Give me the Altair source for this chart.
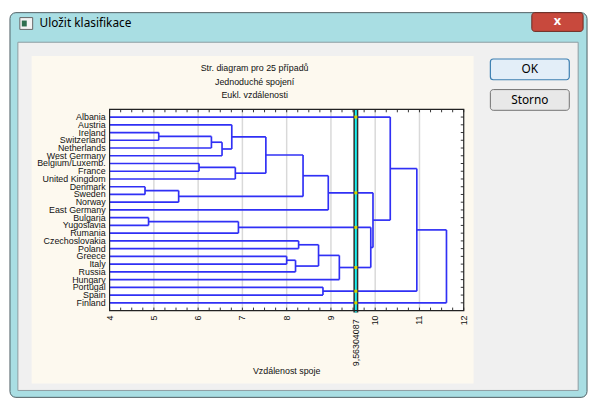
import altair as alt
import pandas as pd

# ---------------- data ----------------
LEAVES = ["Albania", "Austria", "Ireland", "Switzerland", "Netherlands", "West Germany",
          "Belgium/Luxemb.", "France", "United Kingdom", "Denmark", "Sweden", "Norway",
          "East Germany", "Bulgaria", "Yugoslavia", "Rumania", "Czechoslovakia", "Poland",
          "Greece", "Italy", "Russia", "Hungary", "Portugal", "Spain", "Finland"]

# single-linkage merges: left member, right member ("m#" = earlier merge), distance
MERGE_LEFT = ["Ireland", "m0", "m1", "Austria", "Belgium/Luxemb.", "m4", "m3", "Denmark", "m7",
              "m6", "m9", "Bulgaria", "m11", "Czechoslovakia", "Greece", "m14", "m13", "m16",
              "m12", "m10", "Albania", "Portugal", "m20", "m22"]
MERGE_RIGHT = ["Switzerland", "Netherlands", "West Germany", "m2", "France", "United Kingdom",
               "m5", "Sweden", "Norway", "m8", "East Germany", "Yugoslavia", "Rumania", "Poland",
               "Italy", "Russia", "m15", "Hungary", "m17", "m18", "m19", "Spain", "m21", "Finland"]
MERGE_DIST = [5.11, 6.30, 6.54, 6.76, 6.02, 6.84, 7.53, 4.80, 5.56, 8.37, 8.94, 4.88, 6.91,
              8.27, 8.00, 8.20, 8.72, 9.19, 9.90, 9.95, 10.34, 8.82, 10.94, 11.61]

CUTOFF = 9.56304087
CUTOFF_LABEL = "9,56304087"
X_TICKS = [4, 5, 6, 7, 8, 9, 10, 11, 12]
X_TICK_LABELS = ["4", "5", "6", "7", "8", "9", "10", "11", "12"]
X_MINOR = [4 + 0.25 * k for k in range(33)]
X_GRID = [5, 6, 7, 8, 9, 10, 11]

TITLE_LINES = ["Str. diagram pro 25 případů", "Jednoduché spojení", "Eukl. vzdálenosti"]
X_TITLE = "Vzdálenost spoje"
DIALOG_TITLE = "Uložit klasifikace"
BTN_OK = "OK"
BTN_CANCEL = "Storno"

# ---------------- dendrogram geometry ----------------
pos = {name: (4.0, float(i)) for i, name in enumerate(LEAVES)}
segs = []
for k, (a, b, d) in enumerate(zip(MERGE_LEFT, MERGE_RIGHT, MERGE_DIST)):
    xa, ya = pos[a]
    xb, yb = pos[b]
    segs.append(dict(x1=xa, x2=d, y1=ya, y2=ya))
    segs.append(dict(x1=xb, x2=d, y1=yb, y2=yb))
    segs.append(dict(x1=d, x2=d, y1=ya, y2=yb))
    pos[f"m{k}"] = (d, (ya + yb) / 2)
seg_df = pd.DataFrame(segs)
cross_df = pd.DataFrame([dict(x=CUTOFF, y=s["y1"]) for s in segs
                         if s["y1"] == s["y2"] and s["x1"] < CUTOFF < s["x2"]])
leaf_df = pd.DataFrame({"y": list(range(len(LEAVES))), "name": LEAVES})
xt_df = pd.DataFrame({"x": X_TICKS, "lab": X_TICK_LABELS})
minor_df = pd.DataFrame({"x": X_MINOR})
grid_df = pd.DataFrame({"x": X_GRID})
cut_df = pd.DataFrame({"x": [CUTOFF], "label": [CUTOFF_LABEL]})
ONE = pd.DataFrame({"k": [0]})

W, H = 359, 204
FONT = "Liberation Sans"
UI_FONT = "Noto Sans"
INK = "#111111"

xs = alt.Scale(domain=[4, 12], nice=False, zero=False)
ys = alt.Scale(domain=[-1, 25], reverse=True, nice=False, zero=False)


def box(x1, y1, x2, y2, fill, stroke=None, sw=1.0, r=0):
    kw = dict(fill=fill, cornerRadius=r)
    if stroke:
        kw.update(stroke=stroke, strokeWidth=sw)
    return alt.Chart(ONE).mark_rect(**kw).encode(
        x=alt.value(x1), x2=alt.value(x2), y=alt.value(y1), y2=alt.value(y2))


def label(x, y, text, size=12, align="center", color="black", font=UI_FONT, weight="normal"):
    return alt.Chart(ONE).mark_text(text=text, fontSize=size, align=align, baseline="middle",
                                    color=color, font=font, fontWeight=weight).encode(
        x=alt.value(x), y=alt.value(y))


# ---------------- dialog chrome (pixel offsets from plot origin) ----------------
chrome = [
    box(-101, -98, 484, 292, "#a9dee3", "#4d5d63", 1, 6),
    box(-93, -68, 475, 285, "#f0f0f0", "#8d9ca2", 1),
    box(-79, -54, 369, 278, "#fdf9ef"),
    box(-91, -93, -78, -81, "#f4f4f4", "#666666", 1),
    box(-89, -90, -84, -84, "#2f6f4f"),
    box(428, -98, 480, -79, "#c8493d", "#6b2a22", 1, 3),
    label(454, -89, "x", 13, color="white", weight="bold"),
    label(-71, -87, DIALOG_TITLE, 12, align="left"),
    box(386, -51, 466, -30, "#e3eef8", "#3c7fb1", 1.2, 3),
    label(426, -40.5, BTN_OK, 12),
    box(386, -20, 466, 1, "#e8e8e8", "#707070", 1, 3),
    label(426, -9.5, BTN_CANCEL, 12),
    alt.Chart(ONE).mark_text(text=TITLE_LINES, fontSize=9, lineHeight=14, align="center",
                             baseline="top", font=FONT, color=INK).encode(
        x=alt.value(147), y=alt.value(-46)),
    box(0, 0, W, H, "white"),
]

grid = alt.Chart(grid_df).mark_rule(color="#d9d9d9", strokeWidth=1.5).encode(
    x=alt.X("x:Q", scale=xs, axis=None), y=alt.value(0), y2=alt.value(H))

tick_top = alt.Chart(minor_df).mark_rule(color="#333333", strokeWidth=1).encode(
    x=alt.X("x:Q", scale=xs, axis=None), y=alt.value(0), y2=alt.value(3))
tick_bot = alt.Chart(minor_df).mark_rule(color="#333333", strokeWidth=1).encode(
    x=alt.X("x:Q", scale=xs, axis=None), y=alt.value(H), y2=alt.value(H - 3))
tick_right = alt.Chart(leaf_df).mark_rule(color="#333333", strokeWidth=1).encode(
    y=alt.Y("y:Q", scale=ys, axis=None), x=alt.value(W), x2=alt.value(W - 3))

dendro = alt.Chart(seg_df).mark_rule(color="#3030f5", strokeWidth=1.7).encode(
    x=alt.X("x1:Q", scale=xs, axis=None), x2="x2:Q",
    y=alt.Y("y1:Q", scale=ys, axis=None), y2="y2:Q",
)

ylabels = alt.Chart(leaf_df).mark_text(align="right", baseline="middle", fontSize=9,
                                       font=FONT, color=INK).encode(
    y=alt.Y("y:Q", scale=ys, axis=None), x=alt.value(-4), text="name:N")
xlabels = alt.Chart(xt_df).mark_text(angle=270, align="right", baseline="middle", fontSize=9,
                                     font=FONT, color=INK).encode(
    x=alt.X("x:Q", scale=xs, axis=None), y=alt.value(H + 5), text="lab:N")
xtitle = label(W / 2, H + 61, X_TITLE, 9, color=INK, font=FONT)

cut_dark = alt.Chart(cut_df).mark_rule(color="#2e2e2e", strokeWidth=5).encode(
    x=alt.X("x:Q", scale=xs, axis=None), y=alt.value(0), y2=alt.value(H + 2))
cut_cyan = alt.Chart(cut_df).mark_rule(color="#19f0f0", strokeWidth=2).encode(
    x=alt.X("x:Q", scale=xs, axis=None), y=alt.value(0), y2=alt.value(H + 2))
marks = alt.Chart(cross_df).mark_square(size=9, color="#d6d600", opacity=1).encode(
    x=alt.X("x:Q", scale=xs, axis=None), y=alt.Y("y:Q", scale=ys, axis=None))

frame = alt.Chart(ONE).mark_rect(fillOpacity=0, stroke="#222222", strokeWidth=1.2).encode(
    x=alt.value(0), x2=alt.value(W), y=alt.value(0), y2=alt.value(H))

cut_text = alt.Chart(cut_df).mark_text(angle=270, align="right", baseline="middle",
                                       fontSize=9, font=FONT, color=INK).encode(
    x=alt.X("x:Q", scale=xs, axis=None), y=alt.value(H + 9), text="label:N")

chart = alt.layer(
    *chrome, grid, tick_top, tick_bot, tick_right, dendro, cut_dark, cut_cyan, marks,
    frame, ylabels, xlabels, xtitle, cut_text
).properties(
    width=W, height=H,
    padding={"left": 103, "top": 100, "right": 128, "bottom": 91},
    autosize=alt.AutoSizeParams(type="none"),
).configure_view(stroke="transparent").configure(background="white")

chart.save("out.html", embed_options={"renderer": "svg", "actions": False})
